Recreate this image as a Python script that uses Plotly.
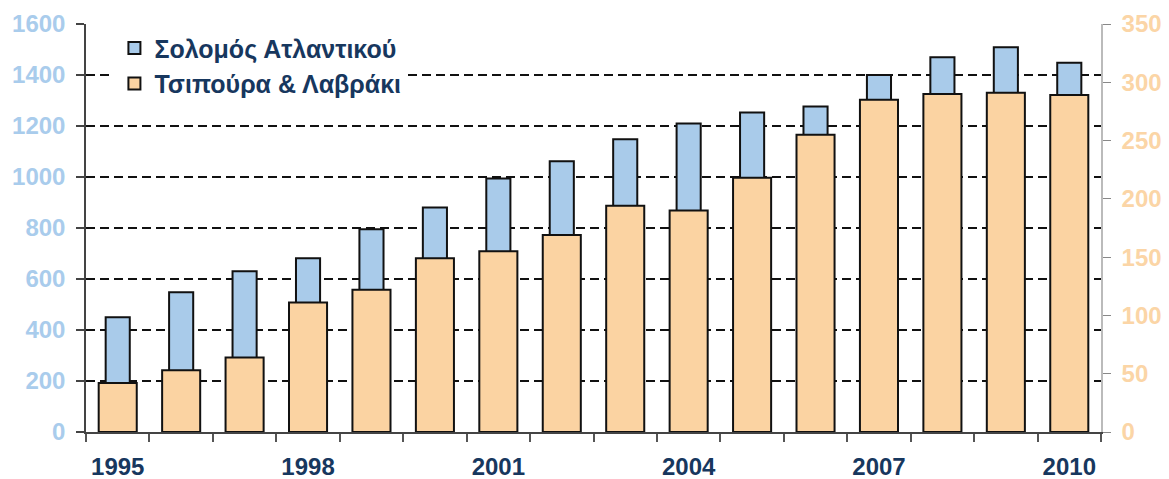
import plotly.graph_objects as go

years = list(range(1995, 2011))
salmon = [450, 548, 630, 681, 795, 880, 994, 1062, 1148, 1210, 1253, 1276, 1400, 1470, 1509, 1448]
bream_bass = [42, 53, 64, 111, 122, 149, 155, 169, 194, 190, 218, 255, 285, 290, 291, 289]
label_years = [1995, 1998, 2001, 2004, 2007, 2010]
left_ticks = [0, 200, 400, 600, 800, 1000, 1200, 1400, 1600]
right_ticks = [0, 50, 100, 150, 200, 250, 300, 350]

navy = "#17375E"
blue_fill = "#A9CBEA"
orange_fill = "#FBD3A2"
font_family = "Liberation Sans, Arial, sans-serif"

fig = go.Figure()
fig.add_trace(go.Bar(
    x=years, y=salmon, name="Σολομός Ατλαντικού", yaxis="y",
    width=0.38, marker=dict(color=blue_fill, line=dict(color="#111111", width=2)),
))
fig.add_trace(go.Bar(
    x=years, y=bream_bass, name="Τσιπούρα & Λαβράκι", yaxis="y2",
    width=0.6, marker=dict(color=orange_fill, line=dict(color="#111111", width=2)),
))

boundaries = [y - 0.5 for y in years] + [years[-1] + 0.5]

fig.update_layout(
    width=1169, height=479,
    margin=dict(l=86, r=68, t=24, b=47, autoexpand=False),
    paper_bgcolor="white", plot_bgcolor="white",
    barmode="overlay",
    font=dict(family=font_family),
    showlegend=True,
    legend=dict(
        x=0.028, y=0.997, xanchor="left", yanchor="top",
        bgcolor="white", borderwidth=0,
        font=dict(size=25, color=navy, family=font_family, weight="bold"),
        tracegroupgap=0,
    ),
    xaxis=dict(
        range=[1994.5, 2010.5], automargin=False,
        tickmode="array", tickvals=label_years, ticktext=[str(y) for y in label_years],
        ticks="", showgrid=False, zeroline=False,
        showline=True, linecolor="#444444", linewidth=1.5,
        tickfont=dict(size=24, color=navy, family=font_family, weight="bold"),
        ticklabelstandoff=12,
        minor=dict(tickmode="array", tickvals=boundaries, ticks="outside",
                   ticklen=8, tickcolor="#555555", tickwidth=1.5, showgrid=False),
    ),
    yaxis=dict(
        range=[0, 1600], tickmode="array", tickvals=left_ticks, automargin=False,
        showgrid=True, gridcolor="#111111", gridwidth=2, griddash="9px,5px",
        zeroline=False, showline=True, linecolor="#444444", linewidth=1.5,
        ticks="outside", ticklen=8, tickcolor="#444444", tickwidth=1.5,
        tickfont=dict(size=24, color="#A9CCEC", family=font_family, weight="bold"),
        ticklabelstandoff=6,
    ),
    yaxis2=dict(
        range=[0, 350], tickmode="array", tickvals=right_ticks, automargin=False,
        overlaying="y", side="right", showgrid=False, zeroline=False,
        showline=True, linecolor="#BBBBBB", linewidth=1.5,
        ticks="outside", ticklen=8, tickcolor="#888888", tickwidth=1,
        tickfont=dict(size=24, color="#FBD5A6", family=font_family, weight="bold"),
        ticklabelstandoff=6,
    ),
)

fig.write_html(
    "out.html",
    config={"displayModeBar": False},
    post_script="document.body.style.margin='0';document.body.style.overflow='hidden';",
)
